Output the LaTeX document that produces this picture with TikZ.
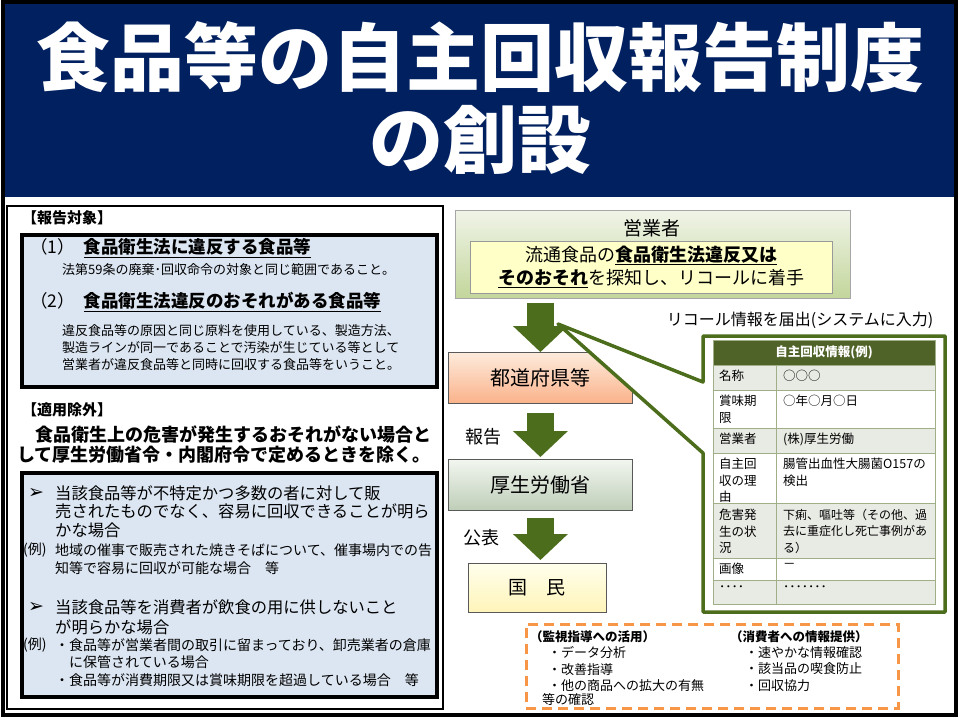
\documentclass[tikz,border=0pt]{standalone}
\usepackage{fontspec}
\setmainfont{Noto Sans CJK JP}
\newfontfamily\symfont{DejaVu Sans}
\usetikzlibrary{arrows.meta,calc}
\definecolor{navy}{RGB}{0,32,96}
\definecolor{paleblue}{RGB}{220,230,242}
\definecolor{darkgreen}{RGB}{76,110,28}
\definecolor{tablegreen}{RGB}{79,98,40}
\definecolor{rowgrey}{RGB}{232,234,228}
\definecolor{rowline}{RGB}{160,175,135}
\definecolor{dashorange}{RGB}{247,150,70}
\newcommand{\fs}[2]{\fontsize{#1}{#2}\selectfont}

\begin{document}
\begin{tikzpicture}[x=1pt,y=-1pt,
  every node/.style={inner sep=0pt},
  titletext/.style={font=\fs{74}{80}\bfseries,text=white},
  bluebox/.style={draw=black,line width=4pt,fill=paleblue,anchor=north west},
  flowbox/.style={draw=black!65,line width=0.8pt,anchor=north west,font=\fs{20}{22}},
  bigarrow/.style={darkgreen,line width=27pt,-{Triangle[length=26pt,width=55pt,line width=0pt]}},
  callout/.style={draw=darkgreen,line width=3.5pt,fill=white,line join=round},
  cell/.style={anchor=north west,align=left,font=\fs{12.5}{16.5}},
  dashbox/.style={draw=dashorange,line width=2.5pt,dash pattern=on 10pt off 6pt,anchor=north west}]
\useasboundingbox (0,0) rectangle (960,720);

% title band
\fill[navy] (4,3) rectangle (954,197);
\node[titletext] (title1) at (480,57) {食品等の自主回収報告制度};
\node[titletext] (title2) at (480,140) {の創設};
\draw[line width=4pt] (2.5,2) rectangle (956,715);

% left panel
\draw[line width=1.2pt] (7,206) rectangle (443,709);
\node[anchor=west,font=\fs{15}{18}\bfseries] (rephead) at (22,218) {【報告対象】};
\node[bluebox,minimum width=415pt,minimum height=152pt] (box1) at (20,233) {};
\node[anchor=west,font=\fs{17.5}{20}] (item1) at (30,248) {（1）\hspace{9pt}\textbf{\underline{食品衛生法に違反する食品等}}};
\node[anchor=west,font=\fs{13}{17}] (item1d) at (62,270) {法第59条の廃棄･回収命令の対象と同じ範囲であること。};
\node[anchor=west,font=\fs{17.5}{20}] (item2) at (30,302) {（2）\hspace{9pt}\textbf{\underline{食品衛生法違反のおそれがある食品等}}};
\node[anchor=west,align=left,font=\fs{13}{17}] (item2d) at (62,348) {違反食品等の原因と同じ原料を使用している、製造方法、\\製造ラインが同一であることで汚染が生じている等として\\営業者が違反食品等と同時に回収する食品等をいうこと。};

\node[anchor=west,font=\fs{15}{18}\bfseries] (exhead) at (22,410) {【適用除外】};
\node[anchor=west,align=left,font=\fs{18}{20}\bfseries] (exrule) at (17,445) {　食品衛生上の危害が発生するおそれがない場合と\\して厚生労働省令・内閣府令で定めるときを除く。};
\node[bluebox,minimum width=415pt,minimum height=224pt] (box2) at (20,471) {};
\node[anchor=west,font=\fs{19}{20}\symfont] (bullet1) at (28,493) {➢};
\node[anchor=west,align=left,font=\fs{16.3}{18.5}] (case1) at (55,511.5) {当該食品等が不特定かつ多数の者に対して販\\売されたものでなく、容易に回収できることが明ら\\かな場合};
\node[anchor=west,font=\fs{14}{18}] (eg1) at (23,550) {(例)};
\node[anchor=west,align=left,font=\fs{14}{18}] (eg1d) at (55,559) {地域の催事で販売された焼きそばについて、催事場内での告\\知等で容易に回収が可能な場合　等};
\node[anchor=west,font=\fs{19}{20}\symfont] (bullet2) at (28,607) {➢};
\node[anchor=west,align=left,font=\fs{16.3}{20}] (case2) at (55,617) {当該食品等を消費者が飲食の用に供しないこと\\が明らかな場合};
\node[anchor=west,font=\fs{14}{18}] (eg2) at (23,645) {(例)};
\node[anchor=west,align=left,font=\fs{14}{17.5}] (eg2d) at (55,662.5) {・食品等が営業者間の取引に留まっており、卸売業者の倉庫\\　に保管されている場合\\・食品等が消費期限又は賞味期限を超過している場合　等};

% flow on the right
\node[draw=black!35,line width=0.8pt,top color={rgb,255:red,240;green,244;blue,232},bottom color={rgb,255:red,195;green,214;blue,155},anchor=north west,minimum width=395pt,minimum height=88pt] (gyo) at (455,210) {};
\node[font=\fs{19}{22}] (gyolabel) at (652,228) {営業者};
\node[draw=black!40,line width=0.8pt,fill={rgb,255:red,255;green,255;blue,200},minimum width=362pt,minimum height=52pt,align=center,font=\fs{18}{23}] (find) at (651,267) {流通食品の\textbf{\underline{食品衛生法違反又は}}\\\textbf{\underline{そのおそれ}}を探知し、リコールに着手};

\node[flowbox,top color={rgb,255:red,253;green,235;blue,220},bottom color={rgb,255:red,250;green,178;blue,138},minimum width=184pt,minimum height=51pt] (tdfk) at (448,352) {都道府県等};
\node[flowbox,top color={rgb,255:red,242;green,246;blue,240},bottom color={rgb,255:red,190;green,206;blue,184},minimum width=184pt,minimum height=51pt] (mhlw) at (448,459) {厚生労働省};
\node[flowbox,top color={rgb,255:red,255;green,255;blue,236},bottom color={rgb,255:red,255;green,244;blue,185},minimum width=138pt,minimum height=49pt,font=\fs{19}{22}] (kokumin) at (468,563) {国　民};

\node[font=\fs{16}{18}] (recall) at (800,320) {リコール情報を届出(システムに入力)};

% callout round the table
\coordinate (apex) at (558,324);
\draw[callout] (apex) -- (703,382) -- (703,336) -- (945,336) -- (945,612) -- (703,612) -- (703,453) -- cycle;

% table
\fill[tablegreen] (713,340) rectangle (935,365);
\foreach \top/\bot/\col in {365/390/rowgrey,390/428/white,428/453/rowgrey,453/503/white,503/558/rowgrey,558/580/white,580/604/rowgrey}
  \fill[\col] (713,\top) rectangle (935,\bot);
\foreach \y in {365,390,428,453,503,558,580}
  \draw[rowline,line width=1pt] (713,\y) -- (935,\y);
\draw[rowline,line width=1pt] (776,365) -- (776,604);
\draw[rowline,line width=1pt] (713,340) rectangle (935,604);
\node[font=\fs{12.5}{14}\bfseries,text=white] (thead) at (824,352.5) {自主回収情報(例)};
\node[cell] (k1) at (719,370) {名称};
\node[cell] (v1) at (783,370) {○○○};
\node[cell] (k2) at (719,395) {賞味期\\限};
\node[cell] (v2) at (783,395) {○年○月○日};
\node[cell] (k3) at (719,433) {営業者};
\node[cell] (v3) at (783,433) {(株)厚生労働};
\node[cell] (k4) at (719,458) {自主回\\収の理\\由};
\node[cell] (v4) at (783,458) {腸管出血性大腸菌O157の\\検出};
\node[cell] (k5) at (719,509) {危害発\\生の状\\況};
\node[cell,font=\fs{12}{16.5}] (v5) at (783,509) {下痢、嘔吐等（その他、過\\去に重症化し死亡事例があ\\る）};
\node[cell] (k6) at (719,563) {画像};
\node[cell] (v6) at (783,563) {－};
\node[cell] (k7) at (719,585) {････};
\node[cell] (v7) at (783,585) {･･･････};

% block arrows
\draw[bigarrow] ($(gyo.south -| tdfk.north)+(0,4)$) -- (tdfk.north);
\draw[bigarrow] ($(tdfk.south)+(0,9)$) -- ($(mhlw.north)+(0,-2)$);
\draw[bigarrow] ($(mhlw.south)+(0,7)$) -- ($(mhlw.south |- kokumin.north)+(0,-3)$);
\node[font=\fs{18}{20}] (report) at (483,437) {報告};
\node[font=\fs{18}{20}] (publish) at (481,538) {公表};

% use of the reports
\node[dashbox,minimum width=372pt,minimum height=84pt] (usebox) at (525,623) {};
\node[anchor=west,font=\fs{12.5}{15}\bfseries] (usehead1) at (530,637) {（監視指導への活用）};
\node[anchor=west,align=left,font=\fs{13}{16.5}] (uselist1) at (548,669) {・データ分析\\・改善指導\\・他の商品への拡大の有無};
\node[anchor=west,font=\fs{13}{16.5}] (usetail1) at (542,700) {等の確認};
\node[anchor=west,font=\fs{12.5}{15}\bfseries] (usehead2) at (730,637) {（消費者への情報提供）};
\node[anchor=west,align=left,font=\fs{13}{16.5}] (uselist2) at (745,669) {・速やかな情報確認\\・該当品の喫食防止\\・回収協力};
\end{tikzpicture}
\end{document}
